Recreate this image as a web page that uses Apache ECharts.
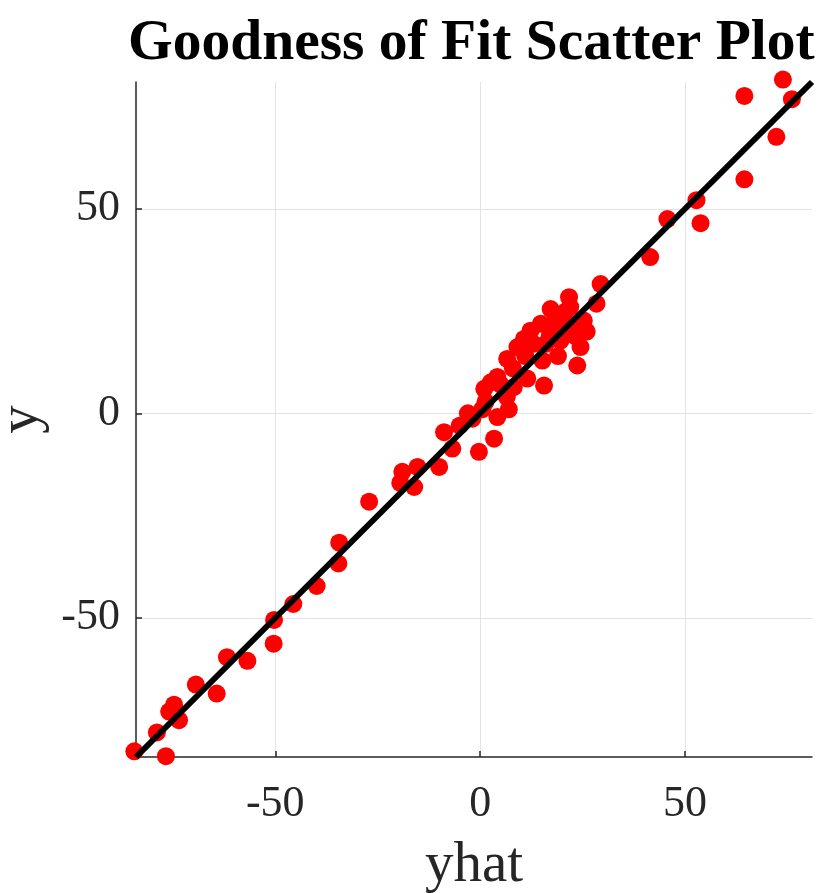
<!DOCTYPE html>
<html>
<head>
<meta charset="utf-8">
<title>Goodness of Fit Scatter Plot</title>
<script src="https://cdn.jsdelivr.net/npm/echarts@6/dist/echarts.min.js"></script>
<style>
  html, body { margin: 0; padding: 0; background: #fff; }
  #chart { width: 823px; height: 893px; }
</style>
</head>
<body>
<div id="chart"></div>
<script>
// predicted values (yhat) and observed values (y)
var yhat = [
  73.9, 64.5, 76.1, 72.3, 64.5, 52.8, 53.8, 45.7, 41.5, 29.4,
  28.4, 21.7, 17.2, 25.3, 24.5, 23.7, 19.6, 14.8, 12.3, 10.7,
  9.1, 6.6, 15.2, 15.6, 11.5, 8.2, 6.5, 2.6, 4.2, 1.3,
  4.2, 3.4, -0.3, -1.9, -8.8, -6.8, -10.0, -19.0, -15.3, -16.1,
  -19.5, -27.1, -34.4, -34.6, -39.9, -45.6, -50.3, -50.4, -56.8, -61.8,
  -64.3, -69.4, -74.7, -75.9, -73.5, -78.9, -84.4, -76.7,
  18.0, 20.0, 22.0, 20.5, 22.5, 17.0, 13.0, 16.0, 19.0, 21.0,
  23.0, 26.0, 11.0, 8.0, 5.0, 7.0, 1.0, -3.0, -5.0, 0.5
];
var y = [
  81.6, 77.6, 76.8, 67.6, 57.2, 52.1, 46.5, 47.5, 38.2, 31.6,
  26.8, 28.4, 25.5, 22.7, 16.2, 11.7, 17.8, 21.9, 20.2, 18.2,
  16.2, 13.3, 12.9, 6.8, 8.5, 6.4, 4.0, 7.6, 8.9, 2.8,
  -0.9, -6.2, -9.4, -1.3, -4.6, -8.6, -13.1, -14.3, -13.1, -18.0,
  -17.0, -21.6, -31.6, -36.7, -42.2, -46.6, -50.5, -56.3, -60.5, -59.6,
  -68.5, -66.3, -71.2, -72.9, -75.0, -78.0, -82.6, -83.8,
  22.0, 24.0, 26.0, 20.0, 21.0, 19.0, 17.0, 17.0, 14.0, 25.0,
  19.0, 20.0, 14.0, 11.0, 7.0, 1.0, 6.0, 0.0, -3.0, 1.0
];
// reference line y = yhat across the axis limits
var fitX = [-84, 81];
var fitY = [-84, 81];
var ticks = [-50, 0, 50];

var points = yhat.map(function (v, i) { return [v, y[i]]; });
var fitLine = fitX.map(function (v, i) { return [v, fitY[i]]; });

var chart = echarts.init(document.getElementById("chart"));
var axisCommon = {
  type: "value",
  min: -84,
  max: 81,
  splitNumber: 3,
  nameLocation: "middle",
  nameTextStyle: {
    fontFamily: "Liberation Serif",
    fontSize: 57,
    color: "#262626"
  },
  axisLine: {
    onZero: false,
    lineStyle: { color: "#262626", width: 1.5 }
  },
  axisTick: {
    inside: true,
    length: 6,
    customValues: ticks,
    lineStyle: { color: "#262626", width: 1.5 }
  },
  axisLabel: {
    customValues: ticks,
    fontFamily: "Liberation Serif",
    fontSize: 44,
    color: "#262626"
  },
  splitLine: {
    show: true,
    lineStyle: { color: "#e3e3e3", width: 1 }
  }
};

chart.setOption({
  animation: false,
  title: {
    text: "Goodness of Fit Scatter Plot",
    left: 128,
    top: 15,
    padding: 0,
    textStyle: {
      fontFamily: "Liberation Serif",
      fontWeight: "bold",
      fontSize: 57.5,
      color: "#000"
    }
  },
  grid: {
    left: 136,
    right: 11,
    top: 82,
    bottom: 136,
    outerBoundsMode: "none"
  },
  xAxis: Object.assign({}, axisCommon, {
    name: "yhat",
    nameGap: 81,
    axisLabel: Object.assign({}, axisCommon.axisLabel, { margin: 25 })
  }),
  yAxis: Object.assign({}, axisCommon, {
    name: "y",
    nameGap: 80,
    axisLabel: Object.assign({}, axisCommon.axisLabel, { margin: 16 })
  }),
  series: [
    {
      type: "scatter",
      data: points,
      symbolSize: 18,
      clip: false,
      itemStyle: { color: "#ff0000", opacity: 1 },
      z: 2
    },
    {
      type: "line",
      data: fitLine,
      symbol: "none",
      lineStyle: { color: "#000", width: 6 },
      z: 3
    }
  ]
});
</script>
</body>
</html>
